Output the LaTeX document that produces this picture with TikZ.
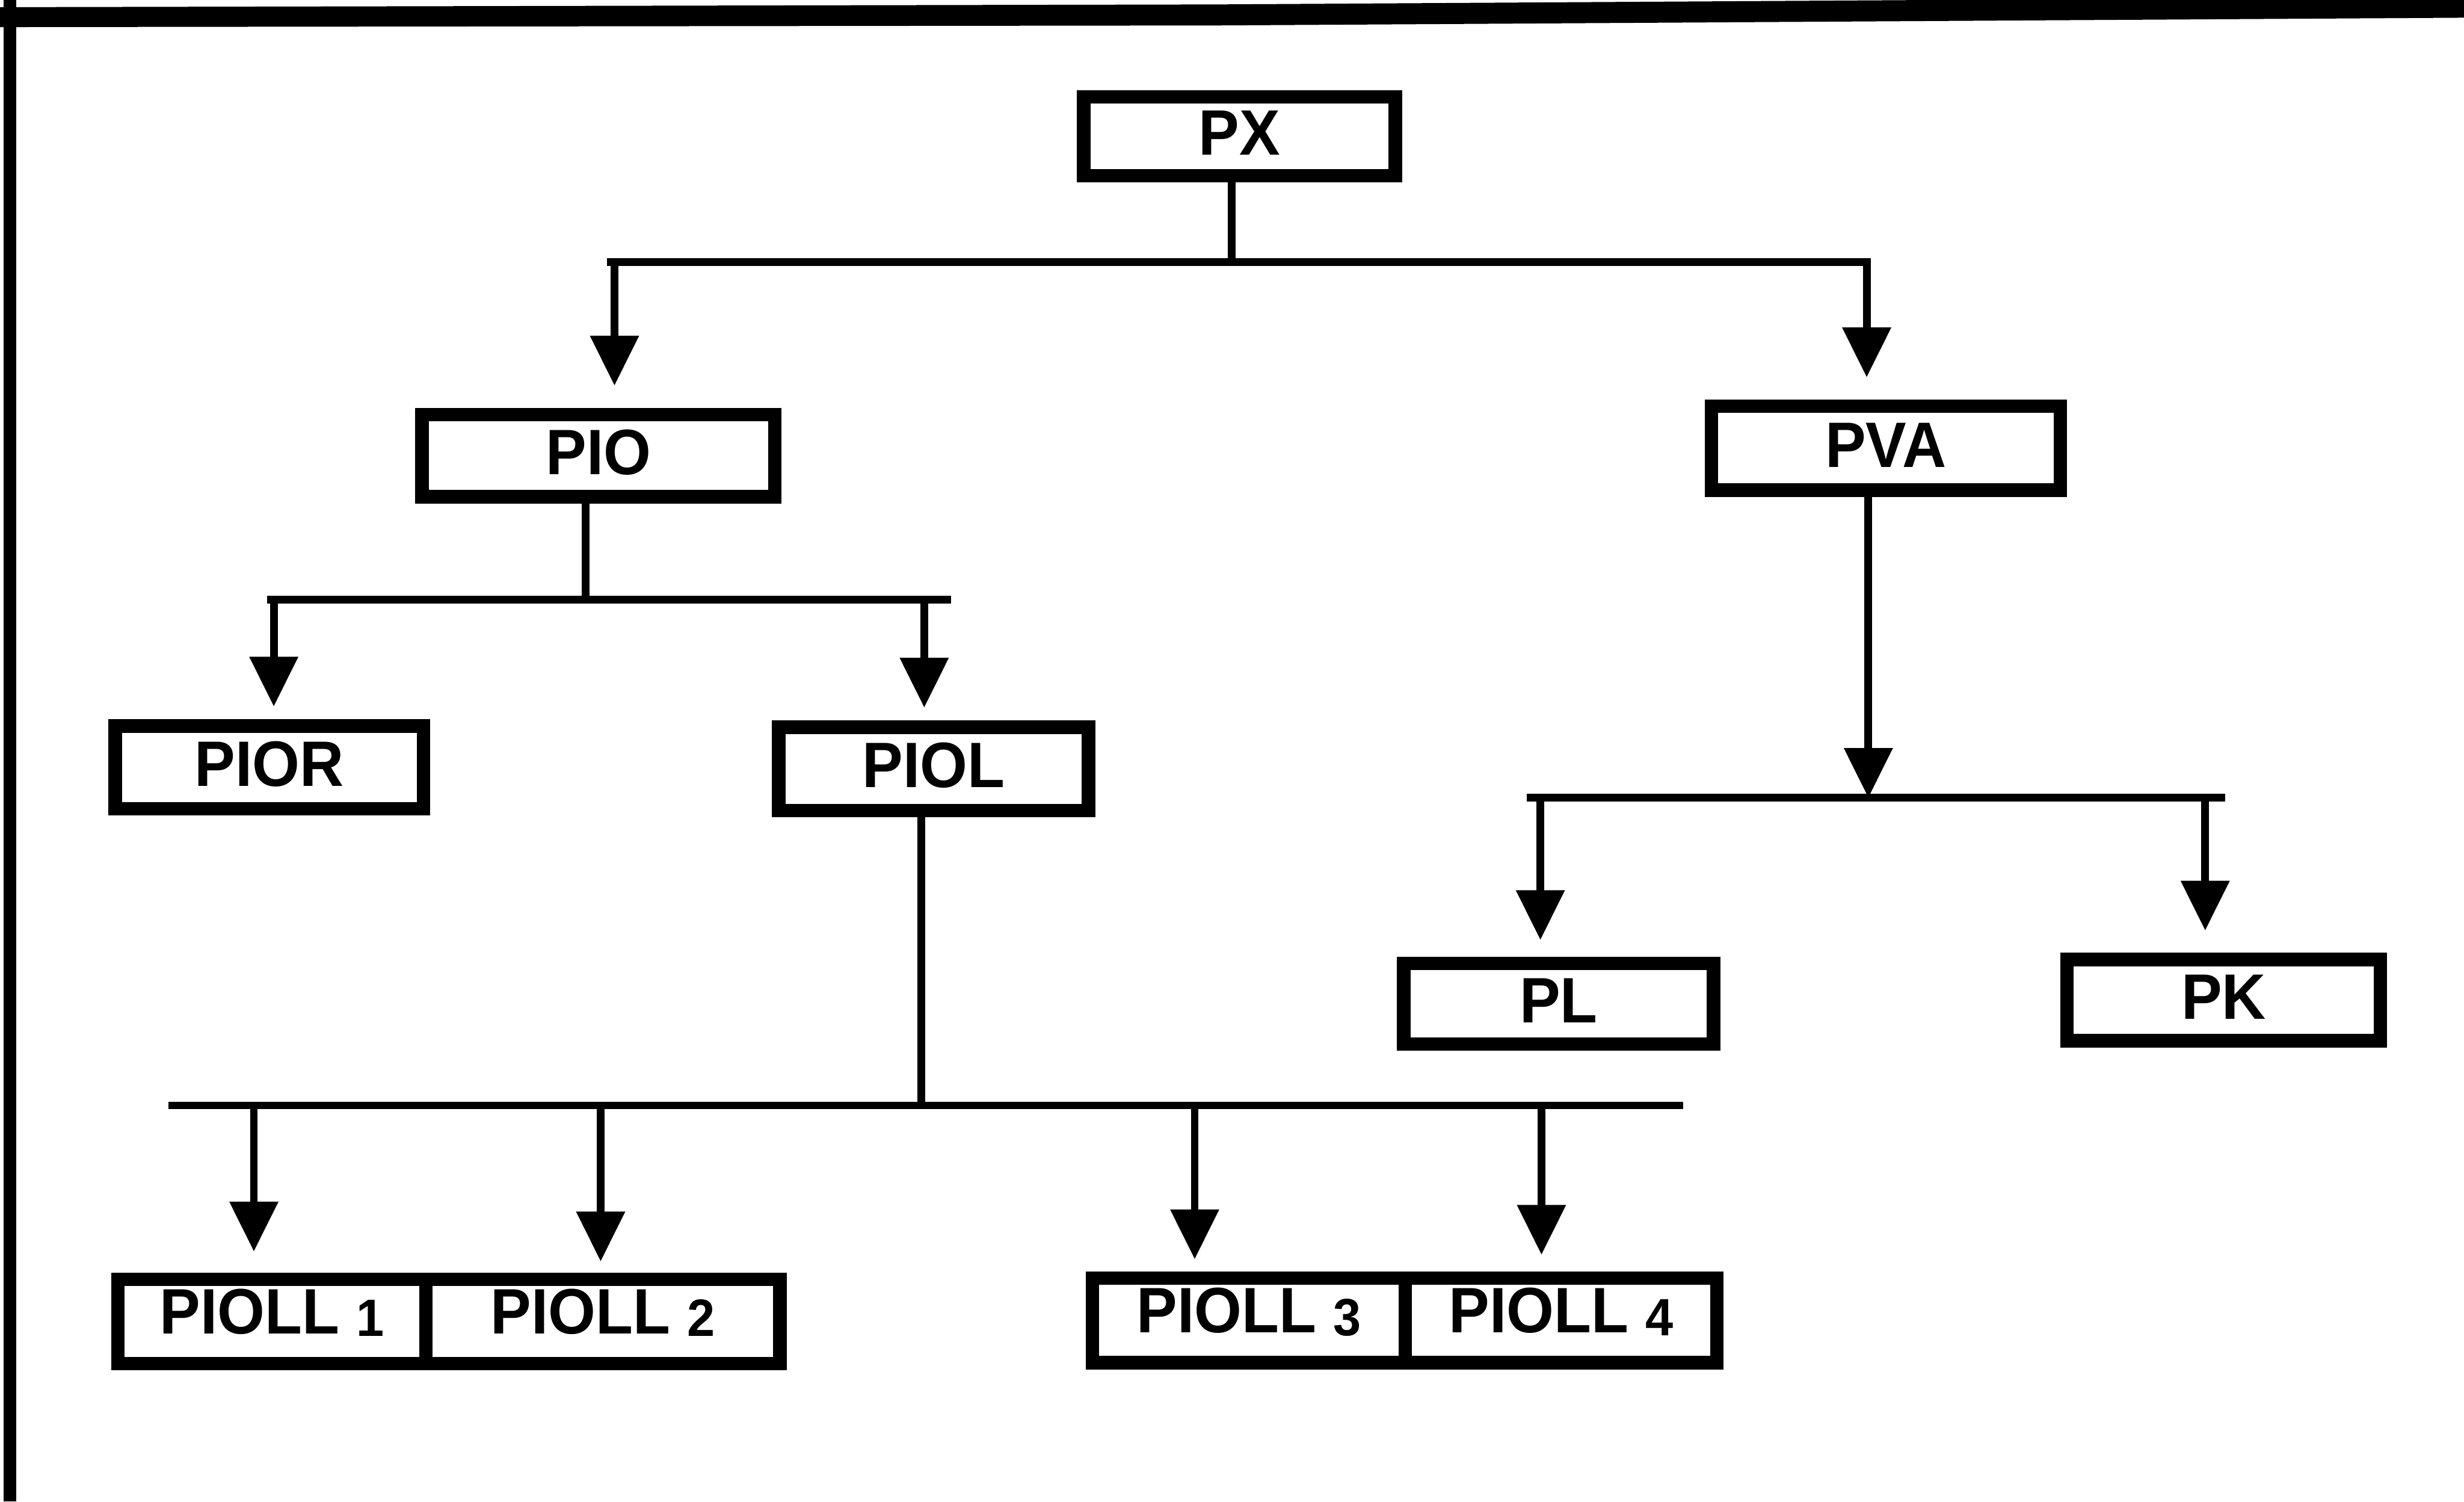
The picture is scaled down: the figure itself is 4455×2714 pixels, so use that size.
\documentclass[tikz,border=0pt]{standalone}
\usepackage{fontspec}
\setmainfont{Liberation Sans}[FakeStretch=0.95]
\usetikzlibrary{arrows.meta}
\newcommand\pdig[1]{\raisebox{-0.05cm}{\fontsize{27}{30}\selectfont #1}}
\begin{document}
\begin{tikzpicture}[x=0.01cm,y=-0.01cm,
  box/.style={draw=black, line width=0.245cm, fill=white, inner sep=0pt,
    font=\fontsize{33}{40}\selectfont\bfseries, text height=0.84cm, text depth=0.16cm},
  lowbox/.style={box, text depth=0.40cm},
  conn/.style={line width=0.14cm},
  arr/.style={conn, -{Triangle[length=0.9cm,width=0.85cm]}},
  frame/.style={line width=0.22cm}
  ]
\fill[white] (0,0) rectangle (4455,2714);
\useasboundingbox (0,0) rectangle (4455,2714);
% frame
\fill[black] (0,13) -- (2200,8) -- (4455,-6) -- (4455,32) -- (2200,46) -- (0,49) -- cycle;
\draw[frame] (18,0) -- (18,2714);

% nodes
\node[box, minimum width=5.635cm, minimum height=1.425cm] (px)   at (2241,246.5) {PX};
\node[box, minimum width=6.375cm, minimum height=1.485cm] (pio)  at (1082,823.5) {PIO};
\node[box, minimum width=6.305cm, minimum height=1.515cm] (pva)  at (3409.5,810) {PVA};
\node[box, minimum width=5.575cm, minimum height=1.495cm] (pior) at (487,1387) {PIOR};
\node[box, minimum width=5.595cm, minimum height=1.505cm] (piol) at (1688,1389.5) {PIOL};
\node[box, minimum width=5.595cm, minimum height=1.455cm] (pl)   at (2818,1814) {PL};
\node[box, minimum width=5.665cm, minimum height=1.465cm] (pk)   at (4020.5,1807.5) {PK};
\node[lowbox, minimum width=5.5675cm, minimum height=1.525cm] (p1) at (491.6,2388.5) {PIOLL \pdig{1}};
\node[lowbox, minimum width=6.3975cm, minimum height=1.525cm] (p2) at (1089.9,2388.5) {PIOLL \pdig{2}};
\node[lowbox, minimum width=5.6575cm, minimum height=1.525cm] (p3) at (2258.1,2386.5) {PIOLL \pdig{3}};
\node[lowbox, minimum width=5.6275cm, minimum height=1.525cm] (p4) at (2822.4,2386.5) {PIOLL \pdig{4}};

% bus coordinates
\coordinate (b1w) at (1097,474);
\coordinate (b1e) at (3382,474);
\coordinate (b1j) at (2227,474);
\coordinate (b1a) at (1111,474);
\coordinate (b1b) at (3375,474);

\coordinate (b2w) at (483,1084);
\coordinate (b2e) at (1720,1084);
\coordinate (b2j) at (1059,1084);
\coordinate (b2a) at (495,1084);
\coordinate (b2b) at (1671,1084);

\coordinate (b3w) at (2760,1442);
\coordinate (b3e) at (4023,1442);
\coordinate (b3j) at (3378,1442);
\coordinate (b3a) at (2785,1442);
\coordinate (b3b) at (3987,1442);

\coordinate (b4w) at (305,1998);
\coordinate (b4e) at (3043,1998);
\coordinate (b4j) at (1666,1998);
\coordinate (b4a) at (459,1998);
\coordinate (b4b) at (1086,1998);
\coordinate (b4c) at (2160,1998);
\coordinate (b4d) at (2787,1998);

% level 1
\draw[conn] (b1j |- px.south) -- (b1j);
\draw[conn] (b1w) -- (b1e);
\draw[arr, shorten >=0.40cm] (b1a) -- (b1a |- pio.north);
\draw[arr, shorten >=0.40cm] (b1b) -- (b1b |- pva.north);

% PIO branch
\draw[conn] (b2j |- pio.south) -- (b2j);
\draw[conn] (b2w) -- (b2e);
\draw[arr, shorten >=0.23cm] (b2a) -- (b2a |- pior.north);
\draw[arr, shorten >=0.23cm] (b2b) -- (b2b |- piol.north);

% PVA branch
\draw[conn] (b3w) -- (b3e);
\draw[arr] (b3j |- pva.south) -- (b3j);
\draw[arr, shorten >=0.30cm] (b3a) -- (b3a |- pl.north);
\draw[arr, shorten >=0.40cm] (b3b) -- (b3b |- pk.north);

% PIOL branch
\draw[conn] (b4j |- piol.south) -- (b4j);
\draw[conn] (b4w) -- (b4e);
\draw[arr, shorten >=0.38cm] (b4a) -- (b4a |- p1.north);
\draw[arr, shorten >=0.20cm] (b4b) -- (b4b |- p2.north);
\draw[arr, shorten >=0.22cm] (b4c) -- (b4c |- p3.north);
\draw[arr, shorten >=0.30cm] (b4d) -- (b4d |- p4.north);
\end{tikzpicture}
\end{document}
